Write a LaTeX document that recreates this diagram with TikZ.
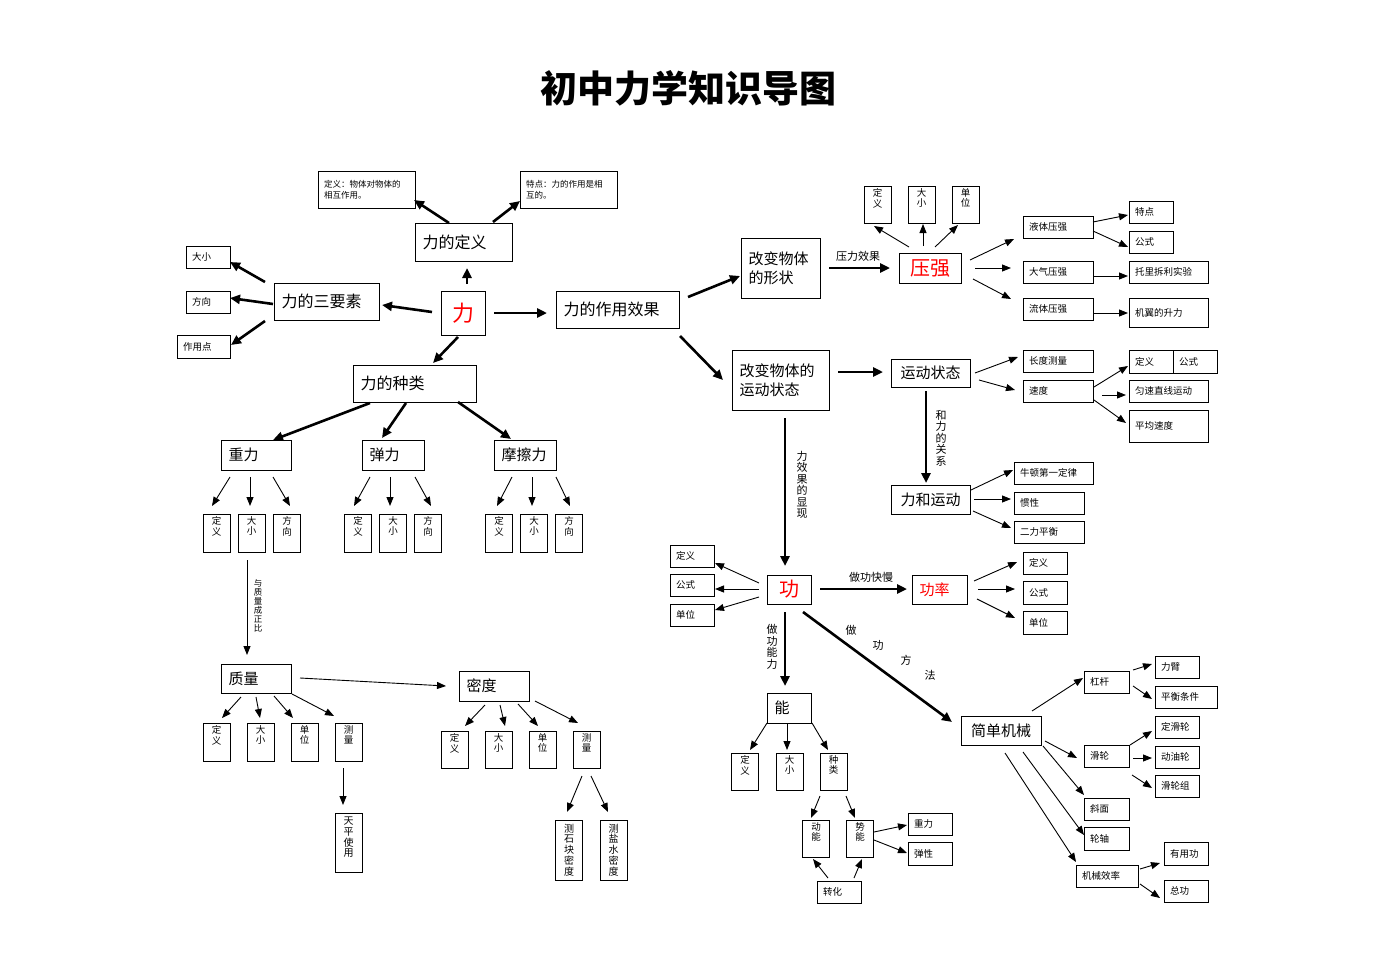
\documentclass[tikz,border=0pt]{standalone}
\usepackage{fontspec}
\setmainfont{Noto Sans CJK SC}
\usetikzlibrary{arrows.meta}
\newcommand\fsz[2]{\fontsize{#1}{#2}\selectfont}
\newcommand\cn[5]{\draw[#1] ([shift={(#3)}]#2.center) -- ([shift={(#5)}]#4.center);}
\begin{document}
\begin{tikzpicture}[x=1pt,y=-1pt,
  bx/.style={draw, line width=0.8pt, inner sep=0pt},
  sb/.style 2 args={bx, text width=#1pt-12pt, inner xsep=6pt, minimum height=#2pt, align=left, font=\fsz{9.5}{11}},
  mb/.style 2 args={bx, text width=#1pt-15pt, inner xsep=7.5pt, minimum height=#2pt, align=left, font=\fsz{15}{19}},
  cb/.style 2 args={bx, minimum width=#1pt, minimum height=#2pt, align=center, font=\fsz{15}{19}},
  vt/.style={anchor=north, yshift=-3pt, inner sep=0pt, align=center, font=\fsz{9.5}{10.2}},
  vtl/.style={anchor=north, yshift=-4pt, inner sep=0pt, align=center, font=\fsz{10}{10.8}},
  vb/.style 2 args={bx, minimum width=27pt, minimum height=#1pt, label={[vt]north:#2}},
  vbl/.style 2 args={bx, minimum width=27pt, minimum height=#1pt, label={[vtl]north:#2}},
  lbl/.style={inner sep=0pt, align=center, font=\fsz{11}{12}},
  tk/.style={line width=2.6pt, -{Triangle[length=10pt,width=9pt]}},
  tn/.style={line width=0.9pt, -{Triangle[length=9pt,width=7pt]}}
]
\fill[white] (0,0) rectangle (1375,971);
\useasboundingbox (0,0) rectangle (1375,971);

\node[font=\fsz{37}{42}\bfseries] (title) at (688,88) {初中力学知识导图};

% ---------- left part ----------
\node[sb={97}{37}, font=\fsz{8.5}{11}] (d1) at (366.5,189.5) {定义：物体对物体的\\相互作用。};
\node[sb={97}{37}, font=\fsz{8.5}{11}] (d2) at (568.5,189.5) {特点：力的作用是相\\互的。};
\node[mb={97}{38}, font=\fsz{16}{19}] (ldef) at (463.5,242) {力的定义};
\node[bx, minimum width=44pt, minimum height=44pt, text=red, font=\fsz{22}{24}] (li) at (463,313) {力};
\node[mb={105}{37}, font=\fsz{16}{19}] (l3) at (326.5,301.5) {力的三要素};
\node[sb={44}{22}] (a1) at (208,257) {大小};
\node[sb={44}{22}] (a2) at (208,302) {方向};
\node[sb={53}{23}] (a3) at (203.5,346.5) {作用点};
\node[mb={123}{37}, font=\fsz{16}{19}] (leff) at (617.5,309.5) {力的作用效果};
\node[mb={123}{37}, font=\fsz{16}{19}] (lkind) at (414.5,383.5) {力的种类};
\node[mb={70}{30}] (g) at (256,455) {重力};
\node[mb={62}{30}] (e) at (393,455) {弹力};
\node[mb={62}{30}] (f) at (525,455) {摩擦力};

\node[vb={38}{定\\义}] (g1) at (216.5,533) {};
\node[vb={38}{大\\小}] (g2) at (251.5,533) {};
\node[vb={38}{方\\向}] (g3) at (287,533) {};
\node[vb={38}{定\\义}] (e1) at (358,533) {};
\node[vb={38}{大\\小}] (e2) at (393,533) {};
\node[vb={38}{方\\向}] (e3) at (428,533) {};
\node[vb={38}{定\\义}] (f1) at (499,533) {};
\node[vb={38}{大\\小}] (f2) at (534,533) {};
\node[vb={38}{方\\向}] (f3) at (569,533) {};

\node[mb={70}{29}] (m) at (256,678.5) {质量};
\node[vb={38}{定\\义}] (m1) at (216.5,742) {};
\node[vb={38}{大\\小}] (m2) at (260.5,742) {};
\node[vb={38}{单\\位}] (m3) at (304.5,742) {};
\node[vb={38}{测\\量}] (m4) at (348.5,742) {};
\node[vbl={59}{天\\平\\使\\用}] (tp) at (348.5,842.5) {};

\node[mb={70}{30}] (rho) at (494,686) {密度};
\node[vb={37}{定\\义}] (r1) at (454.5,749.5) {};
\node[vb={37}{大\\小}] (r2) at (498.5,749.5) {};
\node[vb={37}{单\\位}] (r3) at (542.5,749.5) {};
\node[vb={37}{测\\量}] (r4) at (586.5,749.5) {};
\node[vbl={60}{测\\石\\块\\密\\度}] (r41) at (569,850) {};
\node[vbl={60}{测\\盐\\水\\密\\度}] (r42) at (613.5,850) {};

% ---------- right part ----------
\node[mb={79}{60}] (sh) at (780.5,268) {改变物体\\的形状};
\node[mb={97}{60}] (ms) at (780.5,380) {改变物体的\\运动状态};
\node[cb={62}{30}, text=red, font=\fsz{20}{22}] (p) at (930,268) {压强};
\node[vb={37}{定\\义}] (p1) at (877.5,204.5) {};
\node[vb={37}{大\\小}] (p2) at (921.5,204.5) {};
\node[vb={37}{单\\位}] (p3) at (965.5,204.5) {};
\node[sb={70}{22}] (lq) at (1058,227) {液体压强};
\node[sb={70}{22}] (aq) at (1058,272) {大气压强};
\node[sb={70}{22}] (fq) at (1058,309) {流体压强};
\node[sb={44}{22}] (lq1) at (1151,212) {特点};
\node[sb={44}{22}] (lq2) at (1151,242) {公式};
\node[sb={79}{22}] (aq1) at (1168.5,272) {托里拆利实验};
\node[sb={79}{29}] (fq1) at (1168.5,312.5) {机翼的升力};

\node[cb={79}{28}] (mv) at (930.5,373) {运动状态};
\node[sb={70}{22}] (len) at (1058,361) {长度测量};
\node[sb={70}{22}] (vel) at (1058,391) {速度};
\node[sb={44}{23}] (vd1) at (1151,361.5) {定义};
\node[sb={44}{23}] (vd2) at (1195,361.5) {公式};
\node[sb={79}{22}] (vu) at (1168.5,391) {匀速直线运动};
\node[sb={79}{32}] (va) at (1168.5,426) {平均速度};

\node[cb={79}{29}] (fm) at (930.5,499.5) {力和运动};
\node[sb={79}{22}] (n1) at (1053.5,473) {牛顿第一定律};
\node[sb={70}{22}] (n2) at (1049,503) {惯性};
\node[sb={70}{22}] (n3) at (1049,532) {二力平衡};

\node[cb={44}{29}, text=red, font=\fsz{20}{22}] (w) at (789,589.5) {功};
\node[sb={44}{22}] (w1) at (692,556) {定义};
\node[sb={44}{22}] (w2) at (692,585) {公式};
\node[sb={44}{22}] (w3) at (692,615) {单位};
\node[mb={55}{29}, text=red] (pw) at (939.5,589.5) {功率};
\node[sb={44}{22}] (pw1) at (1045,563) {定义};
\node[sb={44}{23}] (pw2) at (1045,592.5) {公式};
\node[sb={44}{23}] (pw3) at (1045,622.5) {单位};

\node[mb={44}{30}] (en) at (789,708) {能};
\node[vb={37}{定\\义}] (en1) at (745,771.5) {};
\node[vb={37}{大\\小}] (en2) at (789.5,771.5) {};
\node[vb={37}{种\\类}] (en3) at (833.5,771.5) {};
\node[vb={37}{动\\能}] (ke) at (816,838.5) {};
\node[vb={37}{势\\能}] (pe) at (860,838.5) {};
\node[sb={44}{22}] (pe1) at (930,824) {重力};
\node[sb={44}{23}] (pe2) at (930,853.5) {弹性};
\node[sb={44}{22}] (tr) at (839,892) {转化};

\node[cb={80}{29}] (sm) at (1001,730.5) {简单机械};
\node[sb={45}{22}] (lev) at (1106.5,682) {杠杆};
\node[sb={45}{22}] (pul) at (1106.5,756) {滑轮};
\node[sb={45}{22}] (inc) at (1106.5,809) {斜面};
\node[sb={45}{23}] (wa) at (1106.5,838.5) {轮轴};
\node[sb={62}{22}] (eff) at (1107,876) {机械效率};
\node[sb={44}{22}] (lev1) at (1177,667) {力臂};
\node[sb={62}{22}] (lev2) at (1186,697) {平衡条件};
\node[sb={44}{22}] (pul1) at (1177,727) {定滑轮};
\node[sb={44}{22}] (pul2) at (1177,757) {动油轮};
\node[sb={44}{22}] (pul3) at (1177,786) {滑轮组};
\node[sb={44}{23}] (eff1) at (1186,853.5) {有用功};
\node[sb={44}{22}] (eff2) at (1186,891) {总功};

% ---------- arrow labels ----------
\node[lbl] (t1) at (858,256) {压力效果};
\node[lbl] (t2) at (871,577) {做功快慢};
\node[lbl, font=\fsz{11}{11.5}] (t3) at (941,438) {和\\力\\的\\关\\系};
\node[lbl, font=\fsz{11}{11.5}] (t4) at (802,485) {力\\效\\果\\的\\显\\现};
\node[lbl, font=\fsz{11}{11.5}] (t5) at (772,647) {做\\功\\能\\力};
\node[lbl, font=\fsz{8.5}{9}] (t6) at (258,606) {与\\质\\量\\成\\正\\比};
\node[lbl] (k1) at (851,630) {做};
\node[lbl] (k2) at (878,645) {功};
\node[lbl] (k3) at (906,660) {方};
\node[lbl] (k4) at (930,675) {法};

% ---------- thick arrows ----------
\cn{tk}{li}{-31,-1}{l3}{55.5,3.5}
\cn{tk}{li}{4,-29}{ldef}{3.5,26}
\cn{tk}{li}{31,0}{leff}{-70.5,3.5}
\cn{tk}{li}{-5,24}{lkind}{18.5,-20.5}
\cn{tk}{lkind}{-44.5,19.5}{g}{17,-15}
\cn{tk}{lkind}{-8.5,19.5}{e}{-11,-17}
\cn{tk}{lkind}{43.5,18.5}{f}{-14,-16}
\cn{tk}{ldef}{-14.5,-19}{d1}{47.5,10.5}
\cn{tk}{ldef}{29.5,-20}{d2}{-48.5,11.5}
\cn{tk}{l3}{-61.5,-19.5}{a1}{22,5}
\cn{tk}{l3}{-53.5,2.5}{a2}{22,-4}
\cn{tk}{l3}{-61.5,19.5}{a3}{27.5,-1.5}
\cn{tk}{leff}{70.5,-12.5}{sh}{-40.5,8}
\cn{tk}{leff}{62.5,26.5}{ms}{-57.5,0}
\cn{tk}{sh}{48.5,0}{p}{-40,0}
\cn{tk}{ms}{57.5,-8}{mv}{-47.5,-1}
\cn{tk}{mv}{-4.5,18}{fm}{-4.5,-16.5}
\cn{tk}{ms}{4.5,38}{w}{-4,-23.5}
\cn{tk}{w}{31,-0.5}{pw}{-32.5,-0.5}
\cn{tk}{w}{-4,22.5}{en}{-4,-22}
\cn{tk}{w}{14,22.5}{sm}{-49,-8.5}

% ---------- thin arrows: left ----------
\cn{tn}{g}{-26,22}{g1}{-4.5,-27}
\cn{tn}{g}{-6,22}{g2}{-1.5,-27}
\cn{tn}{g}{17,22}{g3}{3,-27}
\cn{tn}{e}{-23,22}{e1}{-4,-27}
\cn{tn}{e}{-3,22}{e2}{-3,-27}
\cn{tn}{e}{22,22}{e3}{3,-27}
\cn{tn}{f}{-13,22}{f1}{-2,-27}
\cn{tn}{f}{7,22}{f2}{-2,-27}
\cn{tn}{f}{31,22}{f3}{1,-27}
\cn{tn}{g2}{-4.5,27}{m}{-9,-23.5}
\cn{tn}{m}{-15,18.5}{m1}{5.5,-24}
\cn{tn}{m}{0,18.5}{m2}{-0.5,-24}
\cn{tn}{m}{18,17.5}{m3}{-11.5,-24}
\cn{tn}{m}{36,15.5}{m4}{-14.5,-26}
\cn{tn}{m4}{-5.5,26}{tp}{-5.5,-37.5}
\cn{tn}{m}{44,-0.5}{rho}{-48,0}
\cn{tn}{rho}{-9,19}{r1}{10.5,-23.5}
\cn{tn}{rho}{6,19}{r2}{6.5,-23.5}
\cn{tn}{rho}{24,18}{r3}{-4.5,-23.5}
\cn{tn}{rho}{41,15}{r4}{-8.5,-26.5}
\cn{tn}{r4}{-4.5,26.5}{r41}{-2,-38}
\cn{tn}{r4}{4.5,26.5}{r42}{-5.5,-38}

% ---------- thin arrows: right ----------
\cn{tn}{p}{-21,-21}{p1}{-3.5,21.5}
\cn{tn}{p}{-7,-22}{p2}{1.5,19.5}
\cn{tn}{p}{5,-21}{p3}{-7.5,20.5}
\cn{tn}{p}{40,-8}{lq}{-44,12}
\cn{tn}{p}{45,0}{aq}{-47,-4}
\cn{tn}{p}{43,11}{fq}{-47,-10}
\cn{tn}{lq}{35,-5}{lq1}{-23,3}
\cn{tn}{lq}{35,4}{lq2}{-23,5}
\cn{tn}{aq}{35,4}{aq1}{-40.5,4}
\cn{tn}{fq}{35,4}{fq1}{-40.5,0.5}
\cn{tn}{mv}{44.5,0}{len}{-40,-4}
\cn{tn}{mv}{48.5,7}{vel}{-43,-1}
\cn{tn}{vel}{36,-4}{vd1}{-23,4.5}
\cn{tn}{vel}{44,4}{vu}{-42.5,4}
\cn{tn}{vel}{36,9}{va}{-42.5,-3}
\cn{tn}{fm}{40.5,-9.5}{n1}{-40.5,-3}
\cn{tn}{fm}{43.5,-0.5}{n2}{-38,-4}
\cn{tn}{fm}{42.5,11.5}{n3}{-38,-4}
\cn{tn}{w}{-30,-6.5}{w1}{23,7}
\cn{tn}{w}{-30,-0.5}{w2}{23,4}
\cn{tn}{w}{-30,7.5}{w3}{23,-5}
\cn{tn}{pw}{34.5,-8.5}{pw1}{-28,-1}
\cn{tn}{pw}{38.5,-0.5}{pw2}{-30,-3.5}
\cn{tn}{pw}{37.5,9.5}{pw3}{-30,-4.5}
\cn{tn}{en}{-22,15}{en1}{5,-21.5}
\cn{tn}{en}{-2,15}{en2}{-2.5,-21.5}
\cn{tn}{en}{23,15}{en3}{-5.5,-21.5}
\cn{tn}{en3}{-13.5,24.5}{ke}{-5,-20.5}
\cn{tn}{en3}{12.5,24.5}{pe}{-5,-20.5}
\cn{tn}{pe}{14,-6.5}{pe1}{-23,1}
\cn{tn}{pe}{14,1.5}{pe2}{-23,-0.5}
\cn{tn}{tr}{-11,-14}{ke}{-3,20.5}
\cn{tn}{tr}{15,-14}{pe}{2,20.5}
\cn{tn}{sm}{31,-19.5}{lev}{-23.5,-4}
\cn{tn}{sm}{44,10.5}{pul}{-29.5,2}
\cn{tn}{sm}{42,15.5}{inc}{-22.5,-14}
\cn{tn}{sm}{22,21.5}{wa}{-22.5,-3.5}
\cn{tn}{sm}{4,22.5}{eff}{-31,-14}
\cn{tn}{lev}{26.5,-12}{lev1}{-25,-3}
\cn{tn}{lev}{26.5,4}{lev2}{-34,2}
\cn{tn}{pul}{23.5,-11}{pul1}{-25,4}
\cn{tn}{pul}{26.5,2}{pul2}{-25,1}
\cn{tn}{pul}{25.5,19}{pul3}{-25,2}
\cn{tn}{eff}{33,-7}{eff1}{-26,9.5}
\cn{tn}{eff}{33,8}{eff2}{-26,7}
\end{tikzpicture}
\end{document}
